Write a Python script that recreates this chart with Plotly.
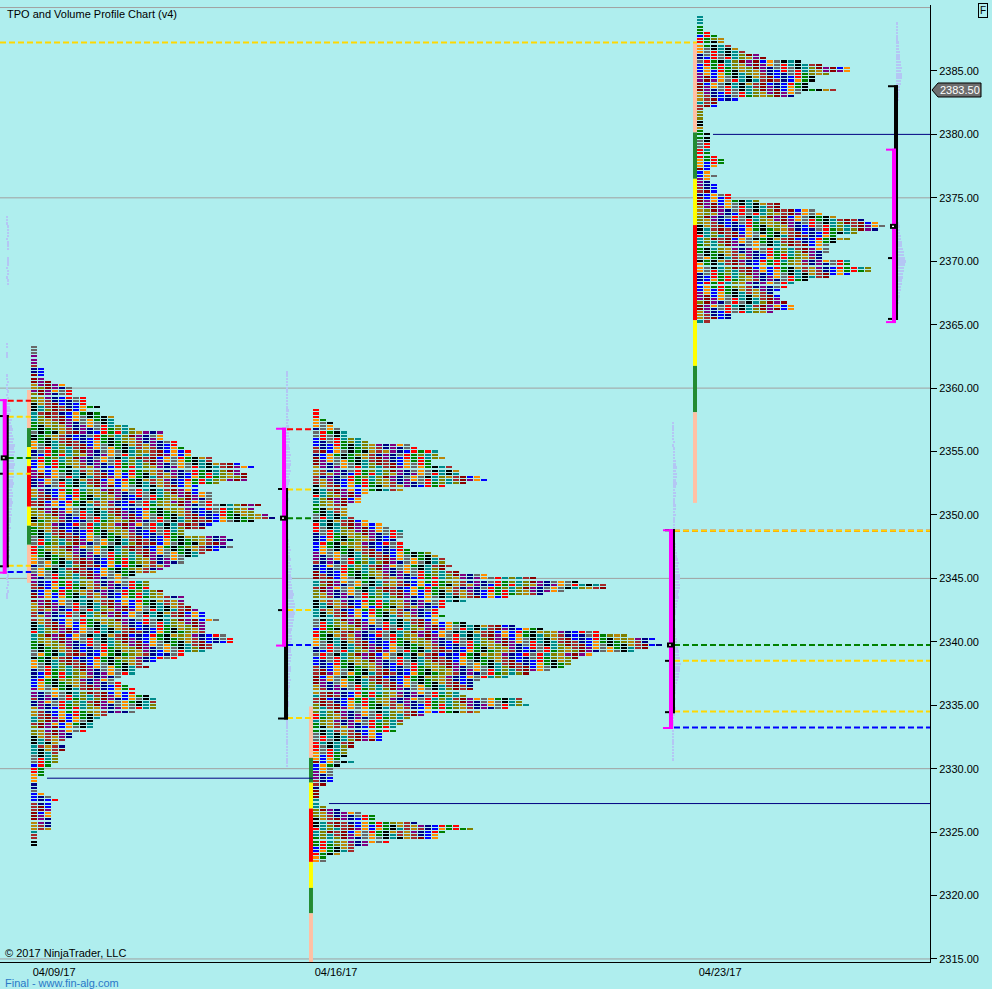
import plotly.graph_objects as go

TICK = 0.25
COL_PX = 7.0           # one TPO column is 7 px wide
X_MAX = 930 / COL_PX   # plot width in columns

# ---- TPO profiles: top price and number of boxes per 0.25 row (top to bottom)
session_dates = ['04/09/17', '04/16/17', '04/23/17']
session_start = [4.43, 44.71, 99.57]
session_top = [2363.25, 2358.25, 2389.25]

p1_counts = [1, 1, 1, 1, 1, 1, 1, 2, 2, 2, 2, 3, 5, 6, 6, 6, 8, 8, 8, 10, 8, 10,
             12, 12, 12, 14, 15, 19, 19, 19, 21, 21, 22, 23, 23, 26, 26,
             30, 32, 30, 31, 31, 31, 27, 24, 24, 26, 26, 26, 26, 33, 32, 32, 34, 35, 32,
             26, 25, 22, 22, 28, 29, 28, 29, 27, 25, 24, 22, 22, 20, 19, 18, 15, 14, 17, 17, 17,
             19, 19, 22, 22, 22, 23, 24, 25, 25, 27,
             25, 25, 25, 25, 28, 29, 29, 26, 26, 25,
             22, 21, 18, 16, 17, 15, 15, 13, 12, 13,
             14, 15, 15, 17, 18, 18, 18, 18, 15, 11,
             10, 9, 9, 9, 8, 6, 6, 5, 4, 5,
             5, 4, 4, 4, 4, 3, 2, 2, 2, 1,
             1, 1, 1, 1, 2, 3, 4, 3, 3, 3,
             3, 3, 3, 3, 3, 3, 1, 1, 1, 1,
             1]

p2_counts = [1, 1, 1, 2, 3, 3, 4, 5, 5, 7,
             8, 14, 15, 18, 18, 19, 17, 17, 20, 21,
             21, 24, 25, 22, 19, 13, 8, 7, 7, 7,
             5, 5, 5, 5, 6, 8, 10, 11, 13, 13,
             13, 12, 13, 13, 14, 17, 18, 19, 19, 20,
             19, 21, 25, 32, 38, 42, 42, 36, 33, 28,
             22, 19, 19, 18, 18, 19, 18, 22, 29, 33,
             41, 45, 49, 48, 50, 48, 46, 40, 38, 37,
             37, 36, 34, 31, 28, 24, 23, 23, 23, 21,
             22, 30, 30, 31, 28, 24, 16, 14, 13, 13,
             12, 12, 10, 10, 10, 6, 6, 5, 5, 5,
             4, 6, 4, 3, 3, 3, 3, 3, 2, 1,
             1, 1, 1, 1, 1, 2, 4, 7, 9, 9,
             15, 21, 23, 19, 18, 18, 11, 8, 6, 6,
             4, 2, 2]

p3_counts = [1, 1, 1, 1, 1, 2, 3, 4, 4, 5,
             6, 7, 9, 10, 15, 18, 22, 22, 19, 17,
             17, 16, 16, 20, 15, 14, 6, 3, 3, 1,
             1, 1, 1, 1, 1, 1, 1, 2, 2, 2,
             2, 2, 2, 2, 3, 4, 4, 3, 2, 2,
             3, 2, 2, 3, 3, 3, 5, 5, 9, 12,
             12, 17, 18, 20, 24, 26, 27, 26, 23, 20,
             22, 20, 19, 19, 19, 18, 18, 22, 22, 25,
             25, 22, 19, 16, 14, 13, 12, 11, 12, 12,
             13, 14, 14, 11, 5, 5, 2]

session_counts = [p1_counts, p2_counts, p3_counts]

# ---- opening range bands left of each profile (edges top to bottom)
band_edges = [
    [2359.85, 2356.85, 2355.35, 2353.85, 2350.65, 2349.15, 2347.65, 2344.65],
    [2334.9, 2330.85, 2328.9, 2326.85, 2322.65, 2320.6, 2318.6, 2314.5],
    [2387.3, 2380.15, 2376.5, 2372.85, 2365.35, 2361.75, 2358.1, 2350.95],
]
band_colors = ['#FFC0A4', '#238B32', '#FFFF00', '#FF0000', '#FFFF00', '#238B32', '#FFC0A4']

# ---- value area brackets (first one closes the week before the chart)
bracket_x = [0.39, 40.29, 95.57, 127.43]
tpo_val = [2345.5, 2339.75, 2333.25, 2365.25]
tpo_vah = [2359.0, 2356.75, 2348.75, 2378.75]
tpo_poc = [2354.5, 2349.75, 2339.75, 2372.75]
vol_val = [2346.0, 2334.0, 2334.5, 2365.5]
vol_mid = [2353.25, 2342.5, 2338.5, 2370.25]
vol_vah = [2357.75, 2352.0, 2348.75, 2383.75]
bracket_extends = [True, True, True, False]

# ---- volume profiles beside the brackets: width in px per 0.25 row, bottom to top
vol_bottom = [2343.5, 2330.25, 2330.75, 2365.5]
vol_a = [1, 1, 2, 1, 2, 2, 1, 2, 2, 2, 3, 2, 2, 3, 2, 3, 3, 2, 3, 3, 3,
         3, 4, 3, 4, 4, 5, 4, 5, 5, 6, 5, 6, 6, 5, 6, 7, 6, 7, 6, 7, 7, 8, 7, 6, 7,
         8, 7, 8, 6, 7, 6, 5, 6, 5,
         4, 5, 4, 3, 4, 3, 3, 2,
         2, 1, 2, 1, 1, 2, 1, 1,
         0, 0, 0, 0, 0,
         1, 1, 0, 1, 1,
         0, 0, 0, 0, 0, 0, 0, 0, 0, 0, 0, 0, 0, 0, 0, 0, 0, 0,
         2, 2, 1, 2, 2, 1, 2, 2, 2,
         0, 0,
         2, 2, 2, 1, 2, 2, 2, 2, 1, 1, 1]
vol_b = [1, 1, 1, 1, 2, 1, 1, 2, 1, 2, 2, 1, 2, 2, 2, 2, 3, 2, 2, 3, 3, 2, 3, 3,
         3, 4, 4, 5, 4, 4, 5, 5, 4, 5, 5, 6, 5, 5,
         6, 5, 6, 6, 5, 6, 7,
         7, 8, 8, 9, 8, 9, 9, 8, 7, 8,
         7, 6, 6, 5, 6, 5, 5, 6, 5, 4, 5, 4, 4, 5, 4, 3, 3,
         2, 2, 1, 2, 2, 1, 2, 1, 2, 2, 2,
         2, 3, 2, 3, 3, 2, 3,
         4, 3, 4, 5, 4, 5, 5, 4, 5, 4, 4, 3, 4, 4, 3, 3, 4,
         3, 2, 3, 2, 2, 3, 2, 2, 2, 1, 2,
         1, 1, 1, 1, 1, 1, 1]
vol_c = [1, 1, 1, 1, 1, 1, 1, 1, 1, 1, 1, 1, 1, 1,
         2, 2, 3, 2, 2, 3, 2, 3, 3, 3,
         4, 5, 6, 6, 7, 7, 8, 7, 7, 6, 6, 5, 5, 4,
         4, 3, 3, 3, 2, 2, 3, 2, 3, 3,
         4, 4, 5, 6, 5, 6, 7, 7, 6, 7, 7, 6, 6, 5, 6, 5, 4, 4, 3, 3,
         3, 2, 2, 2, 2, 2, 2,
         2, 2, 3, 2, 3, 3, 2, 2, 3, 3, 2,
         3, 4, 3, 4, 4, 3, 4, 3, 3, 2, 2, 2,
         2, 1, 2, 1, 1, 1, 1, 1, 1]
vol_d = [1, 1, 2, 1, 2,
         3, 3, 4, 4, 5, 5, 6, 6, 7, 7,
         8, 8, 9, 10, 9, 8, 8, 7,
         6, 6, 5, 5, 4, 4, 4, 3,
         2, 2, 1, 2, 2, 1, 2, 2, 2, 1, 2, 1, 2, 2, 1, 2, 1, 1, 2, 1, 2,
         2, 1, 1, 2, 1, 1, 2, 1, 2, 1, 1, 2, 2, 1, 2, 2, 2, 3, 3, 3, 4,
         4, 5, 5, 6, 6, 5, 6, 5, 5, 4, 4, 4, 3, 3, 3,
         2, 2, 1, 1, 1, 1]
vol_widths = [vol_a, vol_b, vol_c, vol_d]

# ---- untouched single print levels, started from a session
naked_price = [2329.25, 2327.25, 2380.0]
naked_session = [0, 1, 2]
old_level = 2387.25            # yellow level left from an earlier week

grid_prices = [2315, 2330, 2345, 2360, 2375, 2390]
price_ticks = [2315, 2320, 2325, 2330, 2335, 2340, 2345, 2350, 2355, 2360,
               2365, 2370, 2375, 2380, 2385]
last_price = 2383.50

tpo_palette = ['#696969', '#FF0000', '#008000', '#000000', '#008B8B', '#808000', '#B8860B',
               '#A52A2A', '#8B0000', '#800080', '#000080', '#0000FF', '#FF8C00']

BG = '#AFEEEE'
PX_Y = 1 / 12.686       # one pixel in price units
px = lambda n: n / COL_PX


def box_color(s, row, col):
    k = (row + 2 * col) // 3
    h = (col * 7919 + k * 104729 + s * 1299709 + row // 7 * 31) % 8191
    return (h * 37 + col * 5) % len(tpo_palette)


session_low = [session_top[s] - (len(session_counts[s]) - 1) * TICK for s in range(3)]


def line_end(price, x_from):
    for s in range(3):
        if session_start[s] > x_from and session_low[s] <= price <= session_top[s]:
            return session_start[s]
    return X_MAX


fig = go.Figure()

# TPO boxes, one trace per letter colour
boxes = {i: ([], []) for i in range(len(tpo_palette))}
for s, counts in enumerate(session_counts):
    for r, n in enumerate(counts):
        price = session_top[s] - r * TICK
        for c in range(n):
            k = box_color(s, r, c)
            boxes[k][0].append(session_start[s] + c)
            boxes[k][1].append(price)
for k, (bases, ys) in boxes.items():
    fig.add_trace(go.Bar(orientation='h', base=bases, y=ys, x=[px(6)] * len(ys),
                         width=0.165, marker=dict(color=tpo_palette[k], line=dict(width=0)),
                         hoverinfo='skip', showlegend=False))

# volume profiles
vb, vy, vx = [], [], []
for b, widths in enumerate(vol_widths):
    for r, w in enumerate(widths):
        if w > 0:
            vb.append(bracket_x[b] + px(4))
            vy.append(vol_bottom[b] + r * TICK)
            vx.append(px(w))
fig.add_trace(go.Bar(orientation='h', base=vb, y=vy, x=vx, width=0.15,
                     marker=dict(color='#B4C6F4', line=dict(width=0)),
                     hoverinfo='skip', showlegend=False))

shapes = []
for g in grid_prices:
    shapes.append(dict(type='line', x0=0, x1=X_MAX, y0=g, y1=g, layer='below',
                       line=dict(color='#A0A0A0', width=1)))


def rect(x0, x1, y0, y1, color):
    shapes.append(dict(type='rect', x0=x0, x1=x1, y0=y0, y1=y1, fillcolor=color,
                       line=dict(width=0)))


def hline(y, x0, x1, color, dash='6px,3px', width=2):
    shapes.append(dict(type='line', x0=x0, x1=x1, y0=y, y1=y,
                       line=dict(color=color, width=width, dash=dash)))


# opening range bands
for s, edges in enumerate(band_edges):
    for i, col in enumerate(band_colors):
        rect(session_start[s] - px(4), session_start[s], edges[i + 1], edges[i], col)

# level lines
hline(old_level, 0, line_end(old_level, 0), '#FFD700')
for b, x in enumerate(bracket_x):
    if not bracket_extends[b]:
        continue
    x0 = x + px(5)
    for lvl, col in [(tpo_vah[b], '#FF0000'), (tpo_val[b], '#0000FF'), (tpo_poc[b], '#008000'),
                     (vol_vah[b], '#FFD700'), (vol_mid[b], '#FFD700'), (vol_val[b], '#FFD700')]:
        hline(lvl, x0, line_end(lvl, x0), col)
for p, s in zip(naked_price, naked_session):
    x0 = session_start[s] + px(16)
    hline(p, x0, line_end(p, x0), '#000080', dash='solid', width=1)

# brackets
cap = 2 * PX_Y
for b, x in enumerate(bracket_x):
    lo, hi = vol_val[b] - 0.125, vol_vah[b] + 0.125
    rect(x + px(2), x + px(6), lo, hi, '#000000')
    rect(x - px(4), x + px(6), hi - cap, hi, '#000000')
    rect(x - px(4), x + px(6), lo, lo + cap, '#000000')
    rect(x - px(4), x + px(2), vol_mid[b] - cap / 2, vol_mid[b] + cap / 2, '#000000')
    lo, hi = tpo_val[b] - 0.125, tpo_vah[b] + 0.125
    rect(x, x + px(4), lo, hi, '#FF00FF')
    rect(x - px(6), x + px(4), hi - cap, hi, '#FF00FF')
    rect(x - px(6), x + px(4), lo, lo + cap, '#FF00FF')
    rect(x - px(2), x + px(5), tpo_poc[b] - 2.5 * PX_Y, tpo_poc[b] + 2.5 * PX_Y, '#000000')
    rect(x, x + px(2), tpo_poc[b] - 0.7 * PX_Y, tpo_poc[b] + 0.7 * PX_Y, '#FFFFFF')

# last price marker on the price scale
h = 7 * PX_Y
shapes.append(dict(type='path', xref='paper', yref='y',
                   path=f'M {932/930} {last_price} L {938/930} {last_price + h} '
                        f'L {981/930} {last_price + h} L {981/930} {last_price - h} '
                        f'L {938/930} {last_price - h} Z',
                   fillcolor='#6E6E6E', line=dict(color='#000000', width=1)))

FONT = 'Arial, Liberation Sans, sans-serif'
annotations = [
    dict(text='TPO and Volume Profile Chart (v4)', xref='paper', yref='paper',
         x=5 / 930, y=1, yshift=-1, xanchor='left', yanchor='top', showarrow=False,
         font=dict(size=11, color='#000000')),
    dict(text='© 2017 NinjaTrader, LLC', xref='paper', yref='paper', x=3 / 930, y=0,
         yshift=1, xanchor='left', yanchor='bottom', showarrow=False,
         font=dict(size=11, color='#000000')),
    dict(text='Final - www.fin-alg.com', xref='paper', yref='paper', x=3 / 930, y=0,
         yshift=-13, xanchor='left', yanchor='top', showarrow=False,
         font=dict(size=11, color='#2A78C8')),
    dict(text=f'{last_price:.2f}', xref='paper', yref='y', x=960 / 930, y=last_price,
         xanchor='center', yanchor='middle', showarrow=False,
         font=dict(size=11, color='#FFFFFF')),
    dict(text='F', xref='paper', yref='paper', x=983 / 930, y=1, yshift=2,
         xanchor='center', yanchor='top', showarrow=False, bordercolor='#000000',
         borderwidth=1, borderpad=1, font=dict(size=10, color='#000000')),
]

fig.update_layout(
    width=992, height=989, barmode='overlay', bargap=0,
    margin=dict(l=0, r=62, t=5, b=27, pad=0),
    paper_bgcolor=BG, plot_bgcolor=BG,
    font=dict(family=FONT, size=11, color='#000000'),
    shapes=shapes, annotations=annotations,
    xaxis=dict(range=[0, X_MAX], showgrid=False, zeroline=False, showline=True,
               linecolor='#000000', linewidth=1, ticks='',
               tickvals=[x + 3.3 for x in session_start], ticktext=session_dates,
               tickfont=dict(size=11, color='#000000')),
    yaxis=dict(range=[2314.76, 2390.2], side='right', showgrid=False, zeroline=False,
               showline=True, linecolor='#000000', linewidth=1,
               tickvals=price_ticks, tickformat='.2f', ticks='outside', ticklen=6,
               tickcolor='#000000', tickfont=dict(size=11, color='#000000')),
)

# the page body has a default margin; drop it so the chart sits at the window corner
fig.write_html('out.html', config={'displayModeBar': False},
               post_script="document.body.style.margin='0';"
                           "document.body.style.overflow='hidden';")
